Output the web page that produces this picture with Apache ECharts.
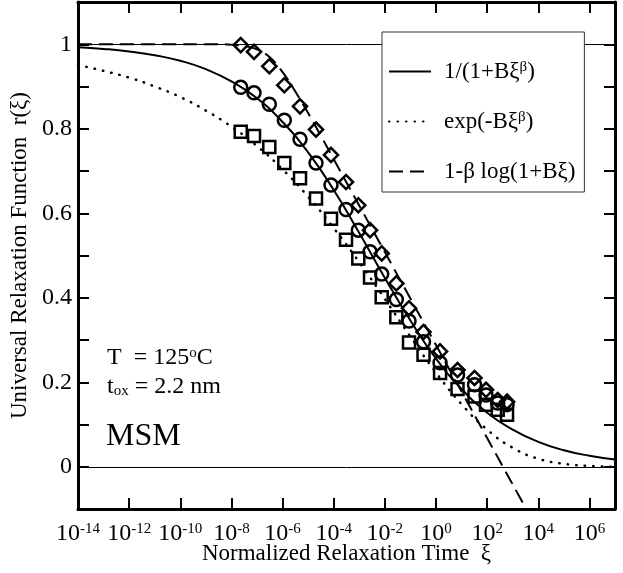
<!DOCTYPE html>
<html>
<head>
<meta charset="utf-8">
<title>Universal Relaxation Function</title>
<script src="https://cdn.jsdelivr.net/npm/echarts@6/dist/echarts.min.js"></script>
<style>
  html, body { margin: 0; padding: 0; background: #fff; }
  #content { width: 623px; height: 573px; }
</style>
</head>
<body>
<div id="content"></div>
<script>
  var FONT = 'Liberation Serif';

  // measured relaxation times (normalized) shared by the three data sets
  var xiData = [2.31e-8, 7.64e-8, 3.03e-7, 1.17e-6, 4.81e-6, 2.03e-5, 7.83e-5, 3.03e-4, 9.16e-4, 2.63e-3,
    7.53e-3, 2.81e-2, 8.81e-2, 0.325, 1.44, 6.95, 32.1, 90.4, 259, 600];
  var diamondR = [0.998, 0.982, 0.948, 0.903, 0.853, 0.798, 0.738, 0.674, 0.619, 0.560,
    0.505, 0.434, 0.375, 0.319, 0.273, 0.229, 0.210, 0.182, 0.158, 0.154];
  var circleR = [0.898, 0.885, 0.858, 0.820, 0.775, 0.719, 0.667, 0.609, 0.560, 0.509,
    0.456, 0.396, 0.345, 0.296, 0.246, 0.217, 0.194, 0.170, 0.151, 0.147];
  var squareR = [0.793, 0.783, 0.757, 0.719, 0.683, 0.635, 0.587, 0.537, 0.493, 0.448,
    0.401, 0.354, 0.294, 0.265, 0.222, 0.184, 0.166, 0.147, 0.135, 0.123];

  // fitted curves
  var curveXi = [1e-14, 1e-13, 1e-12, 1e-11, 1e-10, 1e-9, 1e-8, 1e-7, 1e-6, 1e-5, 1e-4,
    1e-3, 1e-2, 1e-1, 1, 10, 100, 1e3, 1e4, 1e5, 1e6, 1e7];
  var solidR = [0.993, 0.989, 0.983, 0.974, 0.961, 0.941, 0.912, 0.872, 0.816, 0.744, 0.655,
    0.553, 0.447, 0.346, 0.256, 0.184, 0.128, 0.088, 0.059, 0.039, 0.026, 0.017];
  var dottedR = [0.951, 0.937, 0.921, 0.900, 0.875, 0.843, 0.805, 0.759, 0.704, 0.639, 0.565,
    0.484, 0.397, 0.308, 0.223, 0.148, 0.088, 0.045, 0.019, 0.007, 0.002, 0.000];
  var dashXi = [1e-14, 1e-10, 1e-9, 3.16e-9, 1e-8, 3.16e-8, 1e-7, 3.16e-7, 1e-6, 3.16e-6, 1e-5,
    3.16e-5, 1e-4, 1e-3, 1e-2, 1e-1, 1, 10, 100, 1e3, 1e4];
  var dashedR = [1.000, 1.000, 1.000, 1.000, 0.999, 0.996, 0.988, 0.969, 0.934, 0.888, 0.837,
    0.783, 0.728, 0.618, 0.508, 0.398, 0.288, 0.178, 0.068, -0.042, -0.152];

  var xTickExp = [-14, -12, -10, -8, -6, -4, -2, 0, 2, 4, 6];
  var yTickLabels = ['0', '0.2', '0.4', '0.6', '0.8', '1'];

  var curveNames = ['1/(1+Bξβ)', 'exp(-Bξβ)', '1-β log(1+Bξ)'];
  var legendRich = {
    '1/(1+Bξβ)': '{g| }{n|1/(1+Bξ}{s|β}{n|)}',
    'exp(-Bξβ)': '{g| }{n|exp(-Bξ}{s|β}{n|)}',
    '1-β log(1+Bξ)': '{g| }{n|1-β log(1+Bξ)}'
  };

  function pairs(xs, ys) {
    var out = [];
    for (var i = 0; i < xs.length; i++) out.push([xs[i], ys[i]]);
    return out;
  }

  var legendTextRich = {
    n: { fontFamily: FONT, fontSize: 23, color: '#000', lineHeight: 23, padding: [11, 0, 0, 0], verticalAlign: 'bottom' },
    s: { fontFamily: FONT, fontSize: 15, color: '#000', lineHeight: 15, verticalAlign: 'top' },
    g: { width: 8 }
  };
  var noteRich = {
    n: { fontFamily: FONT, fontSize: 24, fill: '#000', lineHeight: 24, padding: [11, 0, 0, 0], verticalAlign: 'bottom' },
    s: { fontFamily: FONT, fontSize: 15, fill: '#000', lineHeight: 15, verticalAlign: 'top' }
  };

  var axisBase = {
    axisLine: { show: true, onZero: false, lineStyle: { color: '#000', width: 3 } },
    axisTick: { inside: true, length: 11, lineStyle: { color: '#000', width: 2 } },
    splitLine: { show: false }
  };

  var markerStyle = { color: 'rgba(0,0,0,0)', borderColor: '#000', borderWidth: 2.5, opacity: 1 };

  var myChart = echarts.init(document.getElementById('content'));

  var option = {
    animation: false,
    backgroundColor: '#fff',
    grid: { left: 78, right: 8, top: 2, bottom: 64, containLabel: false, outerBoundsMode: 'none' },
    xAxis: [
      echarts.util.merge({
        type: 'log', logBase: 10, min: 1e-14, max: 1e7, interval: 2,
        name: 'Normalized Relaxation Time  ξ', nameLocation: 'middle', nameGap: 33,
        nameMoveOverlap: false,
        nameTextStyle: { fontFamily: FONT, fontSize: 23, color: '#000' },
        axisLabel: {
          margin: 13,
          formatter: function (v) {
            var e = Math.round(Math.log(v) / Math.LN10);
            if (xTickExp.indexOf(e) < 0) return '';
            return '{b|10}{s|' + e + '}';
          },
          rich: {
            b: { fontFamily: FONT, fontSize: 24, color: '#000', lineHeight: 24, padding: [7, 0, 0, 0], verticalAlign: 'bottom' },
            s: { fontFamily: FONT, fontSize: 15, color: '#000', lineHeight: 15, verticalAlign: 'top' }
          }
        }
      }, axisBase, true),
      echarts.util.merge({
        type: 'log', logBase: 10, min: 1e-14, max: 1e7, interval: 2, position: 'top',
        axisLabel: { show: false }
      }, axisBase, true)
    ],
    yAxis: [
      echarts.util.merge({
        type: 'value', min: -0.1, max: 1.1, interval: 0.1,
        name: 'Universal Relaxation Function  r(ξ)', nameLocation: 'middle', nameGap: 37,
        nameTextStyle: { fontFamily: FONT, fontSize: 23, color: '#000' },
        axisLabel: {
          margin: 6, fontFamily: FONT, fontSize: 24, color: '#000',
          formatter: function (v) {
            var k = Math.round(v * 10);
            if (k < 0 || k > 10 || k % 2) return '';
            return yTickLabels[k / 2];
          }
        }
      }, axisBase, true),
      echarts.util.merge({
        type: 'value', min: -0.1, max: 1.1, interval: 0.1, position: 'right',
        axisLabel: { show: false }
      }, axisBase, true)
    ],
    legend: {
      data: curveNames,
      orient: 'vertical',
      left: 382, top: 32,
      padding: [17, 9, 9, 6],
      itemGap: 16,
      itemWidth: 42, itemHeight: 14,
      backgroundColor: '#fff',
      borderColor: '#333', borderWidth: 1,
      borderRadius: 0,
      z: 10,
      selectedMode: false,
      itemStyle: { color: 'rgba(0,0,0,0)', borderWidth: 0, opacity: 0 },
      formatter: function (name) { return legendRich[name]; },
      textStyle: { fontFamily: FONT, fontSize: 23, color: '#000', rich: legendTextRich }
    },
    graphic: [
      {
        type: 'text', left: 107, top: 335,
        style: { text: '{n|T  = 125}{s|o}{n|C}', rich: noteRich }
      },
      {
        type: 'text', left: 107, top: 375,
        style: {
          text: '{n|t}{d|ox}{n| = 2.2 nm}',
          rich: {
            n: { fontFamily: FONT, fontSize: 24, fill: '#000', lineHeight: 24, padding: [0, 0, 6, 0], verticalAlign: 'top' },
            d: { fontFamily: FONT, fontSize: 15, fill: '#000', lineHeight: 15, verticalAlign: 'bottom' }
          }
        }
      },
      {
        type: 'text', left: 106, top: 421,
        style: { text: 'MSM', font: '32px "Liberation Serif"', fill: '#000' }
      }
    ],
    series: [
      {
        name: '1/(1+Bξβ)', type: 'line', smooth: true, symbol: 'none', z: 3,
        data: pairs(curveXi, solidR),
        itemStyle: { color: 'rgba(0,0,0,0)' },
        lineStyle: { color: '#000', width: 2, type: 'solid' },
        markLine: {
          silent: true, symbol: 'none', label: { show: false },
          lineStyle: { color: '#000', width: 1, type: 'solid' },
          data: [{ yAxis: 0 }, { yAxis: 1 }]
        }
      },
      {
        name: 'exp(-Bξβ)', type: 'line', smooth: true, symbol: 'none', z: 3,
        data: pairs(curveXi, dottedR),
        itemStyle: { color: 'rgba(0,0,0,0)' },
        lineStyle: { color: '#000', width: 2.5, type: [0.5, 8], cap: 'round' }
      },
      {
        name: '1-β log(1+Bξ)', type: 'line', smooth: 0.4, symbol: 'none', z: 3,
        data: pairs(dashXi, dashedR),
        itemStyle: { color: 'rgba(0,0,0,0)' },
        lineStyle: { color: '#000', width: 2, type: [14, 7] }
      },
      {
        name: 'diamond', type: 'scatter', symbol: 'rect', symbolSize: 10, symbolRotate: 45, z: 4,
        data: pairs(xiData, diamondR), itemStyle: markerStyle
      },
      {
        name: 'circle', type: 'scatter', symbol: 'circle', symbolSize: 13, z: 4,
        data: pairs(xiData, circleR), itemStyle: markerStyle
      },
      {
        name: 'square', type: 'scatter', symbol: 'rect', symbolSize: 12, z: 4,
        data: pairs(xiData, squareR), itemStyle: markerStyle
      }
    ]
  };

  myChart.setOption(option);
</script>
</body>
</html>
